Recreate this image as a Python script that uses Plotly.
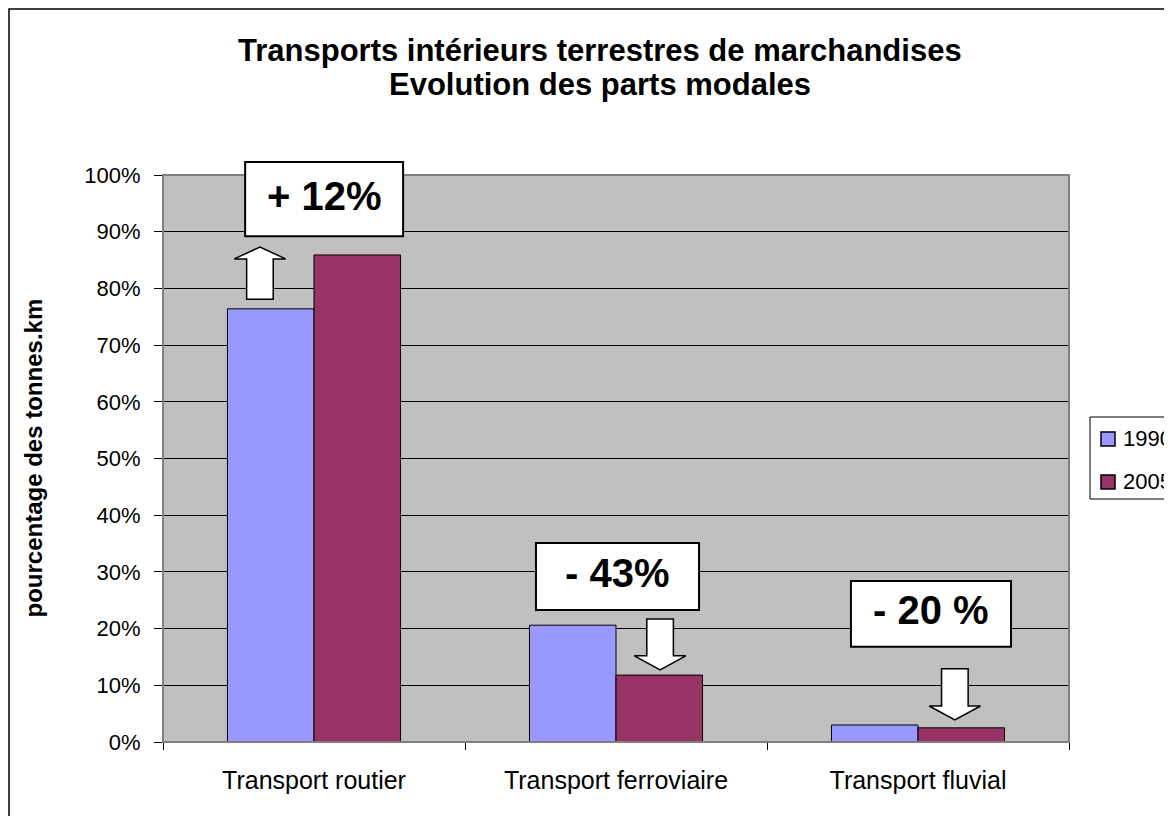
import plotly.graph_objects as go

# ---------------- data ----------------
categories = ["Transport routier", "Transport ferroviaire", "Transport fluvial"]
series_names = ["1990", "2005"]
values_1990 = [0.764, 0.206, 0.030]
values_2005 = [0.859, 0.118, 0.025]
change_labels = ["+ 12%", "- 43%", "- 20 %"]
y_ticks = [0, 0.1, 0.2, 0.3, 0.4, 0.5, 0.6, 0.7, 0.8, 0.9, 1.0]

title_lines = ["Transports intérieurs terrestres de marchandises",
               "Evolution des parts modales"]
y_title = "pourcentage des tonnes.km"

# ---------------- styles ----------------
FONT = "Arial, Liberation Sans, sans-serif"
COL_1990 = "#9999FF"
COL_2005 = "#993366"
PLOT_BG = "#C0C0C0"

OFF = 8  # page body margin
W, H = 1172, 816
ML, MT = 163 - OFF, 175 - OFF
MR = W - (1069 - OFF)
MB = H - (742 - OFF)
PW, PH = W - ML - MR, H - MT - MB


def px_x(px):  # page pixel -> paper
    return (px - OFF - ML) / PW


def px_y(py):
    return (H - MB - (py - OFF)) / PH


def dx_paper(x):  # data x (category index) -> paper
    return (x + 0.5) / 3.0


# annotation geometry (data units: x = category index, y = share)
box_x = [(-0.228, 0.295), (0.735, 1.275), (1.778, 2.308)]
box_y = [(0.892, 1.023), (0.233, 0.351), (0.168, 0.284)]
arrow_cx = [-0.179, 1.146, 2.122]
arrow_tail = [0.781, 0.217, 0.129]
arrow_headbase = [0.852, 0.152, 0.0635]
arrow_tip = [0.873, 0.127, 0.039]
HEAD_HW = 0.085
SHAFT_HW = 0.044

fig = go.Figure()
xs = list(range(len(categories)))
fig.add_trace(go.Bar(x=xs, y=values_1990, name=series_names[0],
                     marker=dict(color=COL_1990, line=dict(color="black", width=1))))
fig.add_trace(go.Bar(x=xs, y=values_2005, name=series_names[1],
                     marker=dict(color=COL_2005, line=dict(color="black", width=1))))

shapes = []
annotations = []

# outer chart border
shapes.append(dict(type="rect", xref="paper", yref="paper",
                   x0=px_x(9), x1=px_x(1200), y0=px_y(9), y1=px_y(840),
                   line=dict(color="black", width=1.5), fillcolor="rgba(0,0,0,0)", layer="below"))
# plot-area border (top/right grey)
shapes.append(dict(type="rect", xref="paper", yref="paper", x0=0, x1=1, y0=0, y1=1,
                   line=dict(color="#808080", width=2), layer="above"))

# arrows
for cx, t, hb, tip in zip(arrow_cx, arrow_tail, arrow_headbase, arrow_tip):
    path = (f"M {cx - SHAFT_HW} {t} L {cx - SHAFT_HW} {hb} L {cx - HEAD_HW} {hb} "
            f"L {cx} {tip} L {cx + HEAD_HW} {hb} L {cx + SHAFT_HW} {hb} L {cx + SHAFT_HW} {t} Z")
    shapes.append(dict(type="path", xref="x", yref="y", path=path,
                       fillcolor="white", line=dict(color="black", width=1.5), layer="above"))

# change boxes
for (x0, x1), (y0, y1), lab in zip(box_x, box_y, change_labels):
    shapes.append(dict(type="rect", xref="paper", yref="paper",
                       x0=dx_paper(x0), x1=dx_paper(x1), y0=y0, y1=y1,
                       fillcolor="white", line=dict(color="black", width=2), layer="above"))
    annotations.append(dict(xref="paper", yref="paper", x=dx_paper((x0 + x1) / 2),
                            y=(y0 + y1) / 2 + 0.006, text=f"<b>{lab}</b>", showarrow=False,
                            xanchor="center", yanchor="middle",
                            font=dict(family=FONT, size=40, color="black")))

# titles
annotations.append(dict(xref="paper", yref="paper", x=px_x(600), y=px_y(50),
                        text=f"<b>{title_lines[0]}</b>", showarrow=False,
                        xanchor="center", yanchor="middle",
                        font=dict(family=FONT, size=31, color="black")))
annotations.append(dict(xref="paper", yref="paper", x=px_x(600), y=px_y(85),
                        text=f"<b>{title_lines[1]}</b>", showarrow=False,
                        xanchor="center", yanchor="middle",
                        font=dict(family=FONT, size=31, color="black")))
# y axis title
annotations.append(dict(xref="paper", yref="paper", x=px_x(33), y=0.5,
                        text=f"<b>{y_title}</b>", showarrow=False, textangle=-90,
                        xanchor="center", yanchor="middle",
                        font=dict(family=FONT, size=24, color="black")))

# custom legend
shapes.append(dict(type="rect", xref="paper", yref="paper",
                   x0=px_x(1090), x1=px_x(1220), y0=px_y(499), y1=px_y(417),
                   fillcolor="white", line=dict(color="black", width=1), layer="above"))
leg_cy = [439, 482]
for name, col, cy in zip(series_names, [COL_1990, COL_2005], leg_cy):
    shapes.append(dict(type="rect", xref="paper", yref="paper",
                       x0=px_x(1101), x1=px_x(1115), y0=px_y(cy + 7), y1=px_y(cy - 7),
                       fillcolor=col, line=dict(color="black", width=1.5), layer="above"))
    annotations.append(dict(xref="paper", yref="paper", x=px_x(1121), y=px_y(cy - 1),
                            text=name, showarrow=False, xanchor="left", yanchor="middle",
                            font=dict(family=FONT, size=22, color="black")))

fig.update_layout(
    width=W, height=H,
    margin=dict(l=ML, r=MR, t=MT, b=MB, autoexpand=False),
    paper_bgcolor="white", plot_bgcolor=PLOT_BG,
    barmode="group", bargap=0.427, bargroupgap=0,
    showlegend=False,
    shapes=shapes, annotations=annotations,
    font=dict(family=FONT, color="black"),
)
fig.update_xaxes(range=[-0.5, 2.5], tickvals=xs, ticktext=categories, ticks="",
                 tickfont=dict(family=FONT, size=25, color="black"),
                 ticklabelstandoff=16,
                 showline=True, linecolor="black", linewidth=1, showgrid=False, zeroline=False,
                 minor=dict(tickvals=[-0.5, 0.5, 1.5, 2.5], ticks="outside", ticklen=7,
                            tickcolor="black", showgrid=False))
fig.update_yaxes(range=[0, 1], tickvals=y_ticks, tickformat=".0%",
                 ticks="outside", ticklen=8, tickcolor="black",
                 tickfont=dict(family=FONT, size=22, color="black"),
                 ticklabelstandoff=9,
                 showline=True, linecolor="black", linewidth=1,
                 showgrid=True, gridcolor="black", gridwidth=1, zeroline=False)

fig.write_html("out.html")
